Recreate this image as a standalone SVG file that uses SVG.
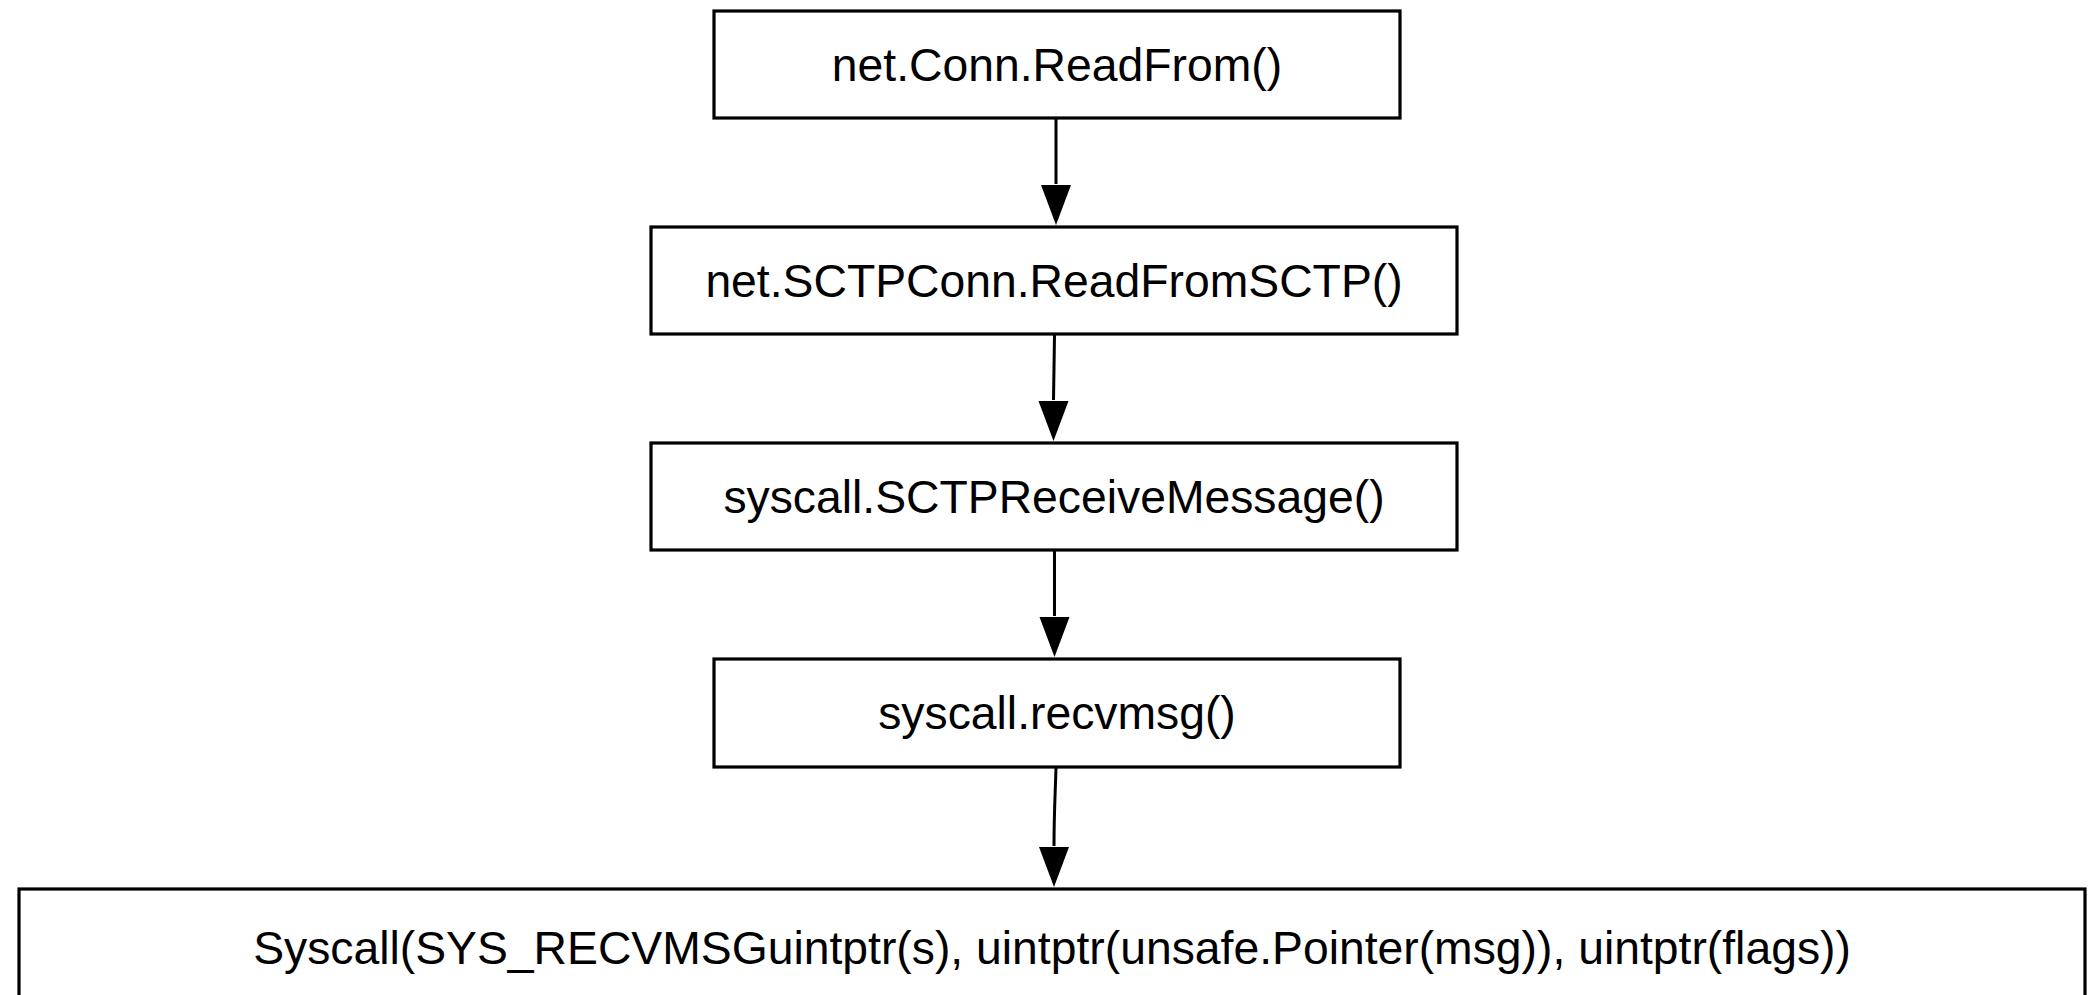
<svg xmlns="http://www.w3.org/2000/svg" width="2088" height="995" viewBox="0 0 2088 995">
<style>
.box{fill:#fff;stroke:#000;stroke-width:3.2}
.lbl{font-family:"Liberation Sans",Arial,sans-serif;font-size:46.3px;fill:#000;text-anchor:middle}
.edge{fill:none;stroke:#000;stroke-width:3}
</style>
<rect width="2088" height="995" fill="#fff"/>
<g id="connectors">
<path class="edge" d="M1056,119 L1056,184"/><path d="M1041,185 L1071,185 L1056,225 Z"/>
<path class="edge" d="M1054.5,335 L1053.5,400"/><path d="M1038.5,401 L1068.5,401 L1053.5,441 Z"/>
<path class="edge" d="M1054.5,551 L1054.5,616"/><path d="M1039.5,617 L1069.5,617 L1054.5,657 Z"/>
<path class="edge" d="M1056,768 C1055,800 1054,815 1054,846"/><path d="M1039,847 L1069,847 L1054,887 Z"/>
</g>
<g id="n1"><rect class="box" x="714" y="11" width="686" height="107"/><text class="lbl" x="1057" y="81">net.Conn.ReadFrom()</text></g>
<g id="n2"><rect class="box" x="651" y="227" width="806" height="107"/><text class="lbl" x="1054" y="297">net.SCTPConn.ReadFromSCTP()</text></g>
<g id="n3"><rect class="box" x="651" y="443" width="806" height="107"/><text class="lbl" x="1054" y="513">syscall.SCTPReceiveMessage()</text></g>
<g id="n4"><rect class="box" x="714" y="659" width="686" height="108"/><text class="lbl" x="1057" y="729">syscall.recvmsg()</text></g>
<g id="n5"><rect class="box" x="19" y="889" width="2066" height="110"/><text class="lbl" x="1052" y="964">Syscall(SYS_RECVMSGuintptr(s), uintptr(unsafe.Pointer(msg)), uintptr(flags))</text></g>
</svg>
